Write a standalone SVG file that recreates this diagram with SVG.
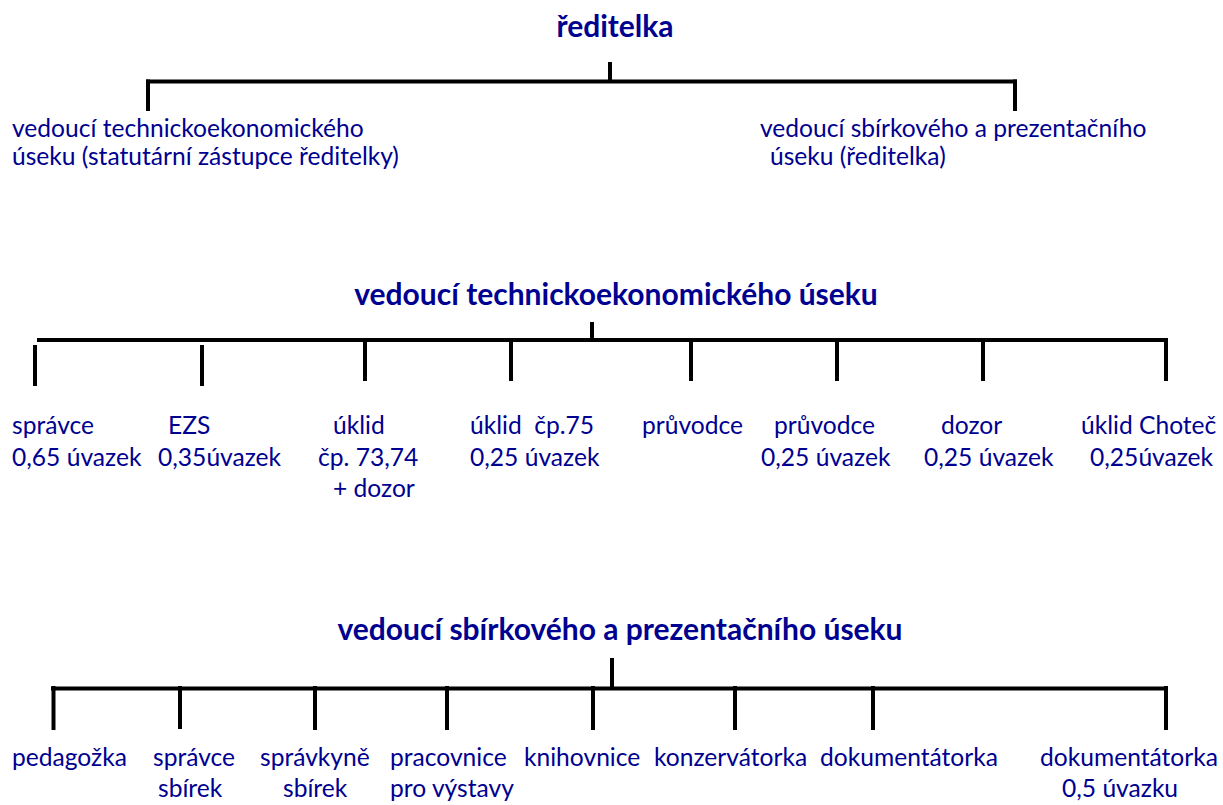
<svg xmlns="http://www.w3.org/2000/svg" width="1223" height="805" viewBox="0 0 1223 805">
<style>
.t{font-family:Lato,"Open Sans","Liberation Sans",sans-serif;font-size:24.6px;fill:#000090;white-space:pre}
.h{font-family:Lato,"Open Sans","Liberation Sans",sans-serif;font-size:30px;font-weight:bold;fill:#000090}
.c line{stroke:#000;stroke-width:4}
</style>
<rect width="1223" height="805" fill="#fff"/>
<g id="title1"><text class="h" x="615" y="37" text-anchor="middle">ředitelka</text></g>
<g id="n-tech"><text class="t" x="12" y="137">vedoucí technickoekonomického</text><text class="t" x="12" y="165">úseku (statutární zástupce ředitelky)</text></g>
<g id="n-sbir"><text class="t" x="760" y="137">vedoucí sbírkového a prezentačního</text><text class="t" x="770" y="165">úseku (ředitelka)</text></g>

<g id="title2"><text class="h" x="616" y="305" text-anchor="middle">vedoucí technickoekonomického úseku</text></g>
<g id="s1"><text class="t" x="12" y="434">správce</text><text class="t" x="12" y="466">0,65 úvazek</text></g>
<g id="s2"><text class="t" x="168" y="434">EZS</text><text class="t" x="158" y="466">0,35úvazek</text></g>
<g id="s3"><text class="t" x="333" y="434">úklid</text><text class="t" x="318" y="466">čp. 73,74</text><text class="t" x="333" y="497">+ dozor</text></g>
<g id="s4"><text class="t" x="470" y="434">úklid  čp.75</text><text class="t" x="470" y="466">0,25 úvazek</text></g>
<g id="s5"><text class="t" x="642" y="434">průvodce</text></g>
<g id="s6"><text class="t" x="774" y="434">průvodce</text><text class="t" x="761" y="466">0,25 úvazek</text></g>
<g id="s7"><text class="t" x="941" y="434">dozor</text><text class="t" x="924" y="466">0,25 úvazek</text></g>
<g id="s8"><text class="t" x="1081" y="434">úklid Choteč</text><text class="t" x="1090" y="466">0,25úvazek</text></g>

<g id="title3"><text class="h" x="620" y="640" text-anchor="middle">vedoucí sbírkového a prezentačního úseku</text></g>
<g id="p1"><text class="t" x="12" y="766">pedagožka</text></g>
<g id="p2"><text class="t" x="153" y="766">správce</text><text class="t" x="158" y="797">sbírek</text></g>
<g id="p3"><text class="t" x="260" y="766">správkyně</text><text class="t" x="283" y="797">sbírek</text></g>
<g id="p4"><text class="t" x="390" y="766">pracovnice</text><text class="t" x="390" y="797">pro výstavy</text></g>
<g id="p5"><text class="t" x="524" y="766">knihovnice</text></g>
<g id="p6"><text class="t" x="654" y="766">konzervátorka</text></g>
<g id="p7"><text class="t" x="820" y="766">dokumentátorka</text></g>
<g id="p8"><text class="t" x="1040" y="766">dokumentátorka</text><text class="t" x="1062" y="797">0,5 úvazku</text></g>

<g id="connectors" class="c">
<line x1="610" y1="62" x2="610" y2="81"/>
<line x1="146" y1="81.5" x2="1017" y2="81.5"/>
<line x1="148" y1="79.5" x2="148" y2="111"/>
<line x1="1015" y1="79.5" x2="1015" y2="111"/>

<line x1="592" y1="322" x2="592" y2="340"/>
<line x1="37" y1="340" x2="1168" y2="340"/>
<line x1="35" y1="345" x2="35" y2="386"/>
<line x1="202" y1="345" x2="202" y2="386"/>
<line x1="365" y1="338" x2="365" y2="381"/>
<line x1="511" y1="338" x2="511" y2="381"/>
<line x1="691" y1="338" x2="691" y2="381"/>
<line x1="837" y1="338" x2="837" y2="381"/>
<line x1="983" y1="338" x2="983" y2="381"/>
<line x1="1166" y1="338" x2="1166" y2="381"/>

<line x1="612" y1="658" x2="612" y2="688"/>
<line x1="51" y1="688.5" x2="1168" y2="688.5"/>
<line x1="53.5" y1="686" x2="53.5" y2="730"/>
<line x1="180" y1="686" x2="180" y2="729"/>
<line x1="315" y1="686" x2="315" y2="730"/>
<line x1="447" y1="686" x2="447" y2="730"/>
<line x1="593" y1="686" x2="593" y2="730"/>
<line x1="735" y1="686" x2="735" y2="730"/>
<line x1="873" y1="686" x2="873" y2="730"/>
<line x1="1166" y1="686" x2="1166" y2="730"/>
</g>
</svg>
